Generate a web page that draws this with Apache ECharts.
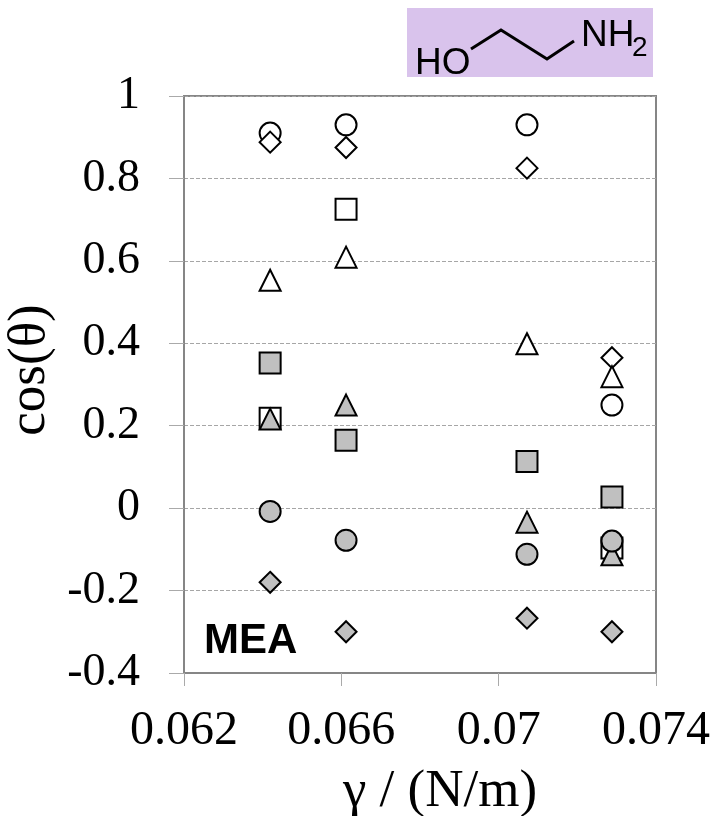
<!DOCTYPE html>
<html>
<head>
<meta charset="utf-8">
<style>html,body{margin:0;padding:0;background:#fff}#c{width:713px;height:816px}</style>
<script src="https://cdn.jsdelivr.net/npm/echarts@6/dist/echarts.min.js"></script>
</head>
<body>
<div id="c"></div>
<script>
const gammaValues = [0.06419, 0.06612, 0.07072, 0.07288];
const xTicks = [0.062, 0.066, 0.07, 0.074];
const openCircle = [0.91, 0.93, 0.93, 0.25];
const openDiamond = [0.888, 0.875, 0.825, 0.365];
const openSquare = [0.218, 0.725, null, -0.097];
const openTriangle = [0.553, 0.609, 0.399, 0.319];
const greySquare = [0.352, 0.165, 0.113, 0.027];
const greyTriangle = [0.216, 0.25, -0.034, -0.113];
const greyCircle = [-0.008, -0.078, -0.112, -0.08];
const greyDiamond = [-0.18, -0.30, -0.267, -0.30];

const serif = '"Liberation Serif"', sans = '"Liberation Sans"';
const grey = '#c0c0c0', frame = '#868686';

function mk(name, values, symbol, fill) {
  return {
    name, type: 'scatter', symbol, symbolSize: 21,
    data: values.map((v, i) => v === null ? null : [gammaValues[i], v]).filter(Boolean),
    itemStyle: { color: fill, borderColor: '#000', borderWidth: 2, opacity: 1 },
    emphasis: { disabled: true }, animation: false
  };
}

const chart = echarts.init(document.getElementById('c'), null, { renderer: 'canvas' });
chart.setOption({
  animation: false,
  grid: { left: 184, right: 57, top: 96, bottom: 143, outerBoundsMode: 'none', show: true, borderColor: frame, borderWidth: 2, backgroundColor: '#fff' },
  xAxis: {
    type: 'value', min: 0.062, max: 0.074,
    name: 'γ / (N/m)', nameLocation: 'middle', nameGap: 93,
    nameTextStyle: { fontFamily: serif, fontSize: 53, color: '#000', padding: [0, 0, 0, 40] },
    axisLine: { show: true, onZero: false, lineStyle: { color: frame, width: 2 } },
    axisTick: { show: true, customValues: xTicks, length: 13, lineStyle: { color: '#aaaaaa', width: 1 } },
    axisLabel: { customValues: xTicks, margin: 34, fontFamily: serif, fontSize: 48, color: '#000', hideOverlap: false, formatter: v => String(+v.toFixed(3)) },
    splitLine: { show: false }
  },
  yAxis: {
    type: 'value', min: -0.4, max: 1, interval: 0.2,
    name: 'cos(θ)', nameLocation: 'middle', nameGap: 124, nameRotate: 90,
    nameTextStyle: { fontFamily: serif, fontSize: 53, color: '#000', padding: [0, 0, 0, 29] },
    axisLine: { show: true, onZero: false, lineStyle: { color: frame, width: 2 } },
    axisTick: { show: true, inside: false, length: 15, lineStyle: { color: '#aaaaaa', width: 1 } },
    axisLabel: { margin: 44, fontFamily: serif, fontSize: 46, color: '#000', formatter: v => String(+v.toFixed(1)) },
    splitLine: { show: true, lineStyle: { color: '#a6a6a6', width: 1, type: [4, 2] } }
  },
  series: [
    mk('open circle', openCircle, 'circle', '#fff'),
    mk('open diamond', openDiamond, 'diamond', '#fff'),
    mk('open square', openSquare, 'rect', '#fff'),
    mk('open triangle', openTriangle, 'triangle', '#fff'),
    mk('grey square', greySquare, 'rect', grey),
    mk('grey triangle', greyTriangle, 'triangle', grey),
    mk('grey circle', greyCircle, 'circle', grey),
    mk('grey diamond', greyDiamond, 'diamond', grey)
  ],
  graphic: [
    { type: 'rect', z: 10, shape: { x: 407, y: 8, width: 246, height: 69 }, style: { fill: '#d9c3ec' } },
    { type: 'polyline', z: 11, shape: { points: [[471, 49], [501, 30], [547, 59], [574, 41]] }, style: { stroke: '#000', lineWidth: 3, fill: null } },
    { type: 'text', z: 11, style: { x: 415, y: 64, text: 'HO', font: '37px ' + sans, fill: '#000', verticalAlign: 'middle' } },
    { type: 'text', z: 11, style: { x: 581, y: 36, text: 'NH', font: '37px ' + sans, fill: '#000', verticalAlign: 'middle' } },
    { type: 'text', z: 11, style: { x: 632, y: 48, text: '2', font: '28px ' + sans, fill: '#000', verticalAlign: 'middle' } },
    { type: 'text', z: 11, style: { x: 204, y: 641, text: 'MEA', font: 'bold 42px ' + sans, fill: '#000', verticalAlign: 'middle' } }
  ]
});
</script>
</body>
</html>
